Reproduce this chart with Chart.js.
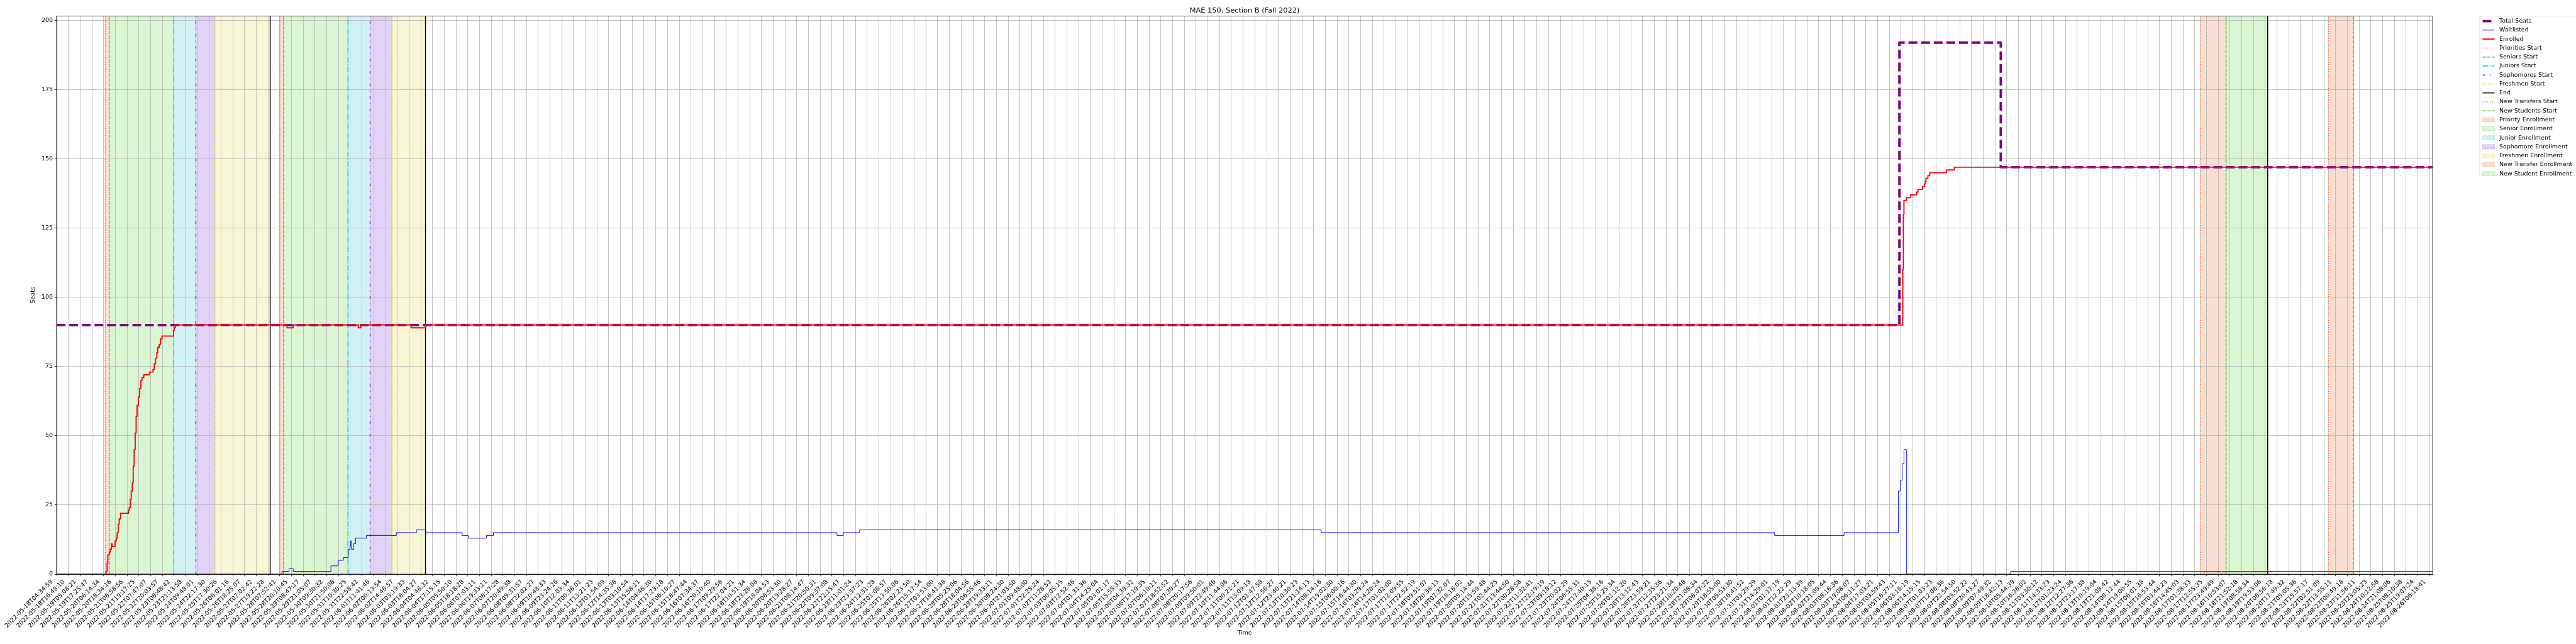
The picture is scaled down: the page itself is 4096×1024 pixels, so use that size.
<!DOCTYPE html>
<html>
<head>
<meta charset="utf-8">
<title>MAE 150, Section B (Fall 2022)</title>
<script src="https://cdn.jsdelivr.net/npm/chart.js@4.4.0/dist/chart.umd.min.js"></script>
<style>
  html, body { margin: 0; padding: 0; background: #fff; }
  #graph-container { width: 4096px; height: 1024px; position: relative; }
</style>
</head>
<body>
<div id="graph-container"><canvas id="graph"></canvas></div>
<script>
// ---- data (x values are sample positions on the tick index axis) ----
const chartTitle = 'MAE 150, Section B (Fall 2022)';
const xTitle = 'Time';
const yTitle = 'Seats';

const tickLabels = [
  '2022-05-18T04:34:59', '2022-05-18T16:48:10', '2022-05-19T05:08:21', '2022-05-19T17:25:47',
  '2022-05-20T06:14:34', '2022-05-20T18:34:16', '2022-05-21T06:58:56', '2022-05-21T19:17:25',
  '2022-05-22T07:47:07', '2022-05-22T20:03:57', '2022-05-23T08:48:42', '2022-05-23T21:13:58',
  '2022-05-24T09:48:01', '2022-05-24T22:17:30', '2022-05-25T17:30:26', '2022-05-26T06:01:16',
  '2022-05-26T18:25:07', '2022-05-27T07:02:42', '2022-05-27T19:22:28', '2022-05-28T07:52:41',
  '2022-05-28T20:10:45', '2022-05-29T08:47:17', '2022-05-29T21:05:07', '2022-05-30T09:30:32',
  '2022-05-30T21:50:06', '2022-05-31T10:30:25', '2022-05-31T22:58:42', '2022-06-01T11:41:46',
  '2022-06-02T00:13:54', '2022-06-02T14:46:57', '2022-06-03T03:19:33', '2022-06-03T16:04:27',
  '2022-06-04T04:46:32', '2022-06-04T17:15:15', '2022-06-05T05:50:10', '2022-06-05T18:18:28',
  '2022-06-06T07:03:11', '2022-06-06T19:33:11', '2022-06-07T08:17:28', '2022-06-07T20:49:38',
  '2022-06-08T09:31:57', '2022-06-08T22:02:27', '2022-06-09T10:48:33', '2022-06-09T23:24:26',
  '2022-06-10T12:03:34', '2022-06-11T00:36:02', '2022-06-11T13:21:23', '2022-06-12T01:54:09',
  '2022-06-12T14:35:38', '2022-06-13T03:10:54', '2022-06-13T15:58:11', '2022-06-14T04:46:30',
  '2022-06-14T17:23:18', '2022-06-15T06:10:27', '2022-06-15T18:47:44', '2022-06-16T07:34:37',
  '2022-06-16T20:10:40', '2022-06-17T09:29:56', '2022-06-17T22:04:21', '2022-06-18T10:51:34',
  '2022-06-18T23:26:08', '2022-06-19T18:04:53', '2022-06-20T06:53:30', '2022-06-20T19:28:27',
  '2022-06-21T08:14:47', '2022-06-21T20:50:31', '2022-06-22T09:37:08', '2022-06-22T22:15:47',
  '2022-06-23T11:01:24', '2022-06-23T23:37:23', '2022-06-24T12:31:28', '2022-06-25T01:06:57',
  '2022-06-25T13:50:06', '2022-06-26T02:23:50', '2022-06-26T15:17:54', '2022-06-27T03:53:00',
  '2022-06-27T16:41:38', '2022-06-28T05:25:06', '2022-06-28T18:04:56', '2022-06-29T06:55:46',
  '2022-06-29T19:33:11', '2022-06-30T08:24:30', '2022-06-30T21:03:50', '2022-07-01T09:48:00',
  '2022-07-01T22:25:24', '2022-07-02T11:28:52', '2022-07-03T00:05:15', '2022-07-03T12:52:46',
  '2022-07-04T01:31:36', '2022-07-04T14:25:04', '2022-07-05T03:01:17', '2022-07-05T15:55:33',
  '2022-07-06T04:39:32', '2022-07-06T17:19:35', '2022-07-07T06:10:11', '2022-07-07T18:52:52',
  '2022-07-08T07:39:27', '2022-07-08T20:17:56', '2022-07-09T09:50:01', '2022-07-09T22:49:46',
  '2022-07-10T11:44:06', '2022-07-11T00:21:21', '2022-07-11T13:09:18', '2022-07-12T01:47:58',
  '2022-07-12T12:56:27', '2022-07-12T23:40:21', '2022-07-13T10:30:23', '2022-07-13T21:14:13',
  '2022-07-14T08:14:16', '2022-07-14T19:02:30', '2022-07-15T06:00:16', '2022-07-15T16:44:30',
  '2022-07-16T03:29:24', '2022-07-16T14:20:24', '2022-07-17T01:02:00', '2022-07-17T12:09:55',
  '2022-07-17T22:52:19', '2022-07-18T09:51:07', '2022-07-18T20:36:13', '2022-07-19T07:32:07',
  '2022-07-19T18:16:02', '2022-07-20T05:14:44', '2022-07-20T15:59:48', '2022-07-21T02:44:25',
  '2022-07-21T13:44:50', '2022-07-22T00:28:58', '2022-07-22T11:32:41', '2022-07-22T22:19:19',
  '2022-07-23T09:18:12', '2022-07-23T20:02:29', '2022-07-24T06:55:31', '2022-07-24T17:40:15',
  '2022-07-25T04:38:16', '2022-07-25T15:25:34', '2022-07-26T02:12:20', '2022-07-26T13:12:43',
  '2022-07-26T23:59:21', '2022-07-27T12:35:36', '2022-07-27T23:21:34', '2022-07-28T10:20:48',
  '2022-07-28T21:08:34', '2022-07-29T08:07:22', '2022-07-29T18:55:00', '2022-07-30T05:53:30',
  '2022-07-30T16:41:52', '2022-07-31T03:29:29', '2022-07-31T14:29:01', '2022-08-01T01:17:19',
  '2022-08-01T12:22:29', '2022-08-01T23:13:39', '2022-08-02T10:18:05', '2022-08-02T21:09:44',
  '2022-08-03T08:16:36', '2022-08-03T19:08:07', '2022-08-04T06:11:27', '2022-08-04T17:03:21',
  '2022-08-05T03:59:43', '2022-08-05T16:27:11', '2022-08-06T03:16:19', '2022-08-06T14:15:15',
  '2022-08-07T01:03:23', '2022-08-07T12:06:36', '2022-08-07T22:54:50', '2022-08-08T09:52:22',
  '2022-08-08T20:43:27', '2022-08-09T07:49:32', '2022-08-09T18:42:13', '2022-08-10T05:44:39',
  '2022-08-10T16:36:02', '2022-08-11T03:30:12', '2022-08-11T14:33:23', '2022-08-12T01:23:24',
  '2022-08-12T12:27:36', '2022-08-12T23:17:38', '2022-08-13T10:19:04', '2022-08-13T21:08:42',
  '2022-08-14T08:12:44', '2022-08-14T19:00:55', '2022-08-15T06:01:38', '2022-08-15T16:53:44',
  '2022-08-16T03:44:23', '2022-08-16T14:45:03', '2022-08-17T01:38:33', '2022-08-17T12:55:35',
  '2022-08-17T23:49:49', '2022-08-18T10:53:07', '2022-08-18T21:52:18', '2022-08-19T08:58:34',
  '2022-08-19T19:53:06', '2022-08-20T06:56:18', '2022-08-20T17:49:32', '2022-08-21T05:05:36',
  '2022-08-21T15:57:17', '2022-08-22T02:51:09', '2022-08-22T13:55:11', '2022-08-23T00:49:18',
  '2022-08-23T11:56:11', '2022-08-23T23:05:23', '2022-08-24T10:12:58', '2022-08-24T21:08:06',
  '2022-08-25T08:10:38', '2022-08-25T19:07:24', '2022-08-26T06:18:41'
];
const seatTicks = [0, 25, 50, 75, 100, 125, 150, 175, 200];
const seatMax = 201.6;
const lastSample = 202.25;

// [position, value] - value holds from this position on
const totalSeats = [[0, 90], [156.86, 192], [165.49, 147], [202.25, 147]];
const waitlisted = [
  [0, 0], [19.18, 1], [19.78, 2], [20.14, 1], [23.35, 3], [23.97, 5], [24.41, 6],
  [24.83, 9], [24.98, 10], [25.02, 12], [25.1, 9], [25.3, 11], [25.45, 13], [26.37, 14],
  [28.92, 15], [30.63, 16], [31.42, 15], [34.52, 14], [35.04, 13], [36.59, 14], [37.18, 15],
  [66.43, 14], [66.97, 15], [68.35, 16], [107.65, 15], [146.24, 14], [152.16, 15],
  [156.77, 30], [156.95, 34], [157.1, 40], [157.25, 45], [157.48, 0], [166.33, 1], [202.25, 1]
];
const enrolled = [
  [0, 0], [4.2, 1], [4.3, 4], [4.36, 7], [4.49, 8], [4.57, 9], [4.66, 11], [4.72, 10],
  [4.97, 12], [5.08, 13], [5.16, 15], [5.24, 18], [5.33, 20], [5.45, 22], [6.12, 23],
  [6.18, 24], [6.27, 27], [6.35, 30], [6.44, 33], [6.52, 39], [6.6, 45], [6.69, 51],
  [6.77, 57], [6.85, 61], [6.96, 64], [7.06, 67], [7.17, 70], [7.27, 71], [7.42, 72],
  [7.9, 73], [8.21, 74], [8.32, 76], [8.42, 78], [8.53, 80], [8.61, 82], [8.74, 83],
  [8.84, 85], [8.97, 86], [9.95, 88], [10.01, 89], [10.1, 90],
  [19.62, 89], [20.14, 90], [25.68, 89], [25.89, 90], [30.18, 89], [31.4, 90],
  [157.15, 110], [157.2, 130], [157.25, 135], [157.45, 136], [157.8, 137], [158.3, 138],
  [158.45, 139], [158.84, 140], [159.0, 141], [159.07, 142], [159.12, 143], [159.29, 144],
  [159.45, 145], [160.87, 146], [161.54, 147], [202.25, 147]
];

const priorityStarts = [4.14, 19.0];
const seniorStarts = [4.48, 19.32];
const juniorStarts = [9.97, 24.8];
const sophomoreStarts = [11.85, 26.69];
const freshmenStarts = [13.48, 28.55];
const endTimes = [18.18, 31.4, 188.21];
const newTransferStarts = [182.49, 193.4];
const newStudentStarts = [184.67, 195.53];

// ---- styles ----
const pt = 100 / 72 * 0.682;
const fontFamily = '"DejaVu Sans", sans-serif';
const fontSize = 10 * pt;
const colors = {
  total: '#800080', waitlisted: '#0000ff', enrolled: '#ff0000',
  priority: '#ee6a2e', senior: '#44cc22', junior: '#17becf',
  sophomore: '#6a22d0', freshmen: '#dcdc2a', end: '#000000'
};
const shades = {
  priority: '#f9dfd3', senior: '#daf5d3', junior: '#d1f2f5',
  sophomore: '#e1d3f6', freshmen: '#f7f7d5'
};
const eventWidth = 1.5 * pt;
const dashUnits = {
  dotted: [1, 1.65], dashed: [3.7, 1.6], dashdot: [6.4, 1.6, 1, 1.6],
  loose: [3, 5, 1, 5], dense: [3, 1, 1, 1], solid: []
};
function dashFor(kind, width) {
  return dashUnits[kind].map(d => d * width);
}

const eventSeries = [
  {label: 'Priorities Start', xs: priorityStarts, color: colors.priority, dash: 'dotted'},
  {label: 'Seniors Start', xs: seniorStarts, color: colors.senior, dash: 'dashed'},
  {label: 'Juniors Start', xs: juniorStarts, color: colors.junior, dash: 'dashdot'},
  {label: 'Sophomores Start', xs: sophomoreStarts, color: colors.sophomore, dash: 'loose'},
  {label: 'Freshmen Start', xs: freshmenStarts, color: colors.freshmen, dash: 'dense'},
  {label: 'End', xs: endTimes, color: colors.end, dash: 'solid'},
  {label: 'New Transfers Start', xs: newTransferStarts, color: colors.priority, dash: 'dotted'},
  {label: 'New Students Start', xs: newStudentStarts, color: colors.senior, dash: 'dashed'}
];
const spanSeries = [
  {label: 'Priority Enrollment', starts: priorityStarts, fill: shades.priority, edge: colors.priority},
  {label: 'Senior Enrollment', starts: seniorStarts, fill: shades.senior, edge: colors.senior},
  {label: 'Junior Enrollment', starts: juniorStarts, fill: shades.junior, edge: colors.junior},
  {label: 'Sophomore Enrollment', starts: sophomoreStarts, fill: shades.sophomore, edge: colors.sophomore},
  {label: 'Freshmen Enrollment', starts: freshmenStarts, fill: shades.freshmen, edge: colors.freshmen},
  {label: 'New Transfer Enrollment', starts: newTransferStarts, fill: shades.priority, edge: colors.priority},
  {label: 'New Student Enrollment', starts: newStudentStarts, fill: shades.senior, edge: colors.senior}
];

// every window runs from its start to the next event line
const boundaries = eventSeries.flatMap(e => e.xs).sort((a, b) => a - b);
function nextBoundary(v) {
  return boundaries.find(b => b > v + 1e-6);
}

const seriesLines = [
  {label: 'Total Seats', data: totalSeats, color: colors.total, width: 4 * pt, dash: 'dashed'},
  {label: 'Waitlisted', data: waitlisted, color: colors.waitlisted, width: 1 * pt, dash: 'solid'},
  {label: 'Enrolled', data: enrolled, color: colors.enrolled, width: 2 * pt, dash: 'solid'}
];

function toPoints(pairs) {
  return pairs.map(p => ({x: p[0], y: p[1]}));
}
function verticalLines(xs) {
  const pts = [];
  xs.forEach(v => { pts.push({x: v, y: 0}, {x: v, y: seatMax}, {x: v, y: null}); });
  return pts;
}

let datasets = [];
seriesLines.forEach((s, i) => {
  datasets.push({
    label: s.label,
    data: toPoints(s.data),
    borderColor: s.color,
    borderWidth: s.width,
    borderDash: dashFor(s.dash, s.width),
    borderJoinStyle: 'round',
    stepped: true,
    pointRadius: 0,
    fill: false,
    clip: 0,
    order: 3 - i
  });
});
eventSeries.forEach(e => {
  datasets.push({
    label: e.label,
    data: verticalLines(e.xs),
    borderColor: e.color,
    borderWidth: eventWidth,
    borderDash: dashFor(e.dash, eventWidth),
    pointRadius: 0,
    fill: false,
    spanGaps: false,
    clip: 0,
    order: 10
  });
});

const spanPlugin = {
  id: 'enrollmentSpans',
  beforeDraw(chart) {
    const {ctx, chartArea, scales: {x}} = chart;
    ctx.save();
    ctx.fillStyle = '#ffffff';
    ctx.fillRect(0, 0, chart.width, chart.height);
    ctx.beginPath();
    ctx.rect(chartArea.left, chartArea.top, chartArea.right - chartArea.left, chartArea.bottom - chartArea.top);
    ctx.clip();
    spanSeries.forEach(s => {
      s.starts.forEach(start => {
        const end = nextBoundary(start);
        if (end === undefined) return;
        const a = x.getPixelForValue(start);
        const b = x.getPixelForValue(end);
        ctx.fillStyle = s.fill;
        ctx.fillRect(a, chartArea.top, b - a, chartArea.bottom - chartArea.top);
        ctx.globalAlpha = 0.22;
        ctx.strokeStyle = s.edge;
        ctx.lineWidth = pt;
        ctx.strokeRect(a, chartArea.top, b - a, chartArea.bottom - chartArea.top);
        ctx.globalAlpha = 1;
      });
    });
    ctx.restore();
  }
};

const framePlugin = {
  id: 'axesFrame',
  afterDatasetsDraw(chart) {
    const {ctx, chartArea} = chart;
    ctx.save();
    ctx.strokeStyle = '#000';
    ctx.lineWidth = 0.8 * pt;
    ctx.strokeRect(chartArea.left, chartArea.top, chartArea.right - chartArea.left, chartArea.bottom - chartArea.top);
    ctx.restore();
  }
};

const titlePlugin = {
  id: 'axesTitle',
  afterDraw(chart) {
    const {ctx, chartArea} = chart;
    ctx.save();
    ctx.font = (12 * pt) + 'px ' + fontFamily;
    ctx.fillStyle = '#000';
    ctx.textAlign = 'center';
    ctx.textBaseline = 'alphabetic';
    ctx.fillText(chartTitle, (chartArea.left + chartArea.right) / 2, chartArea.top - 6 * pt);
    ctx.restore();
  }
};

const legendPlugin = {
  id: 'sideLegend',
  afterDraw(chart) {
    const {ctx, chartArea} = chart;
    const left = chartArea.right + 75;
    const top = chartArea.top;
    const rowGap = 14.27;
    const rows = seriesLines.length + eventSeries.length + spanSeries.length;
    const boxH = 8.1 * 2 + rowGap * (rows - 1) - 5.9;
    ctx.save();
    ctx.beginPath();
    ctx.roundRect(left, top, 175, boxH, 2);
    ctx.fillStyle = 'rgba(255,255,255,0.8)';
    ctx.fill();
    ctx.strokeStyle = '#cccccc';
    ctx.lineWidth = 0.7;
    ctx.stroke();

    const hx0 = left + 4.5, hx1 = left + 23.5, tx = left + 31;
    let y = top + 8.1;
    ctx.font = fontSize + 'px ' + fontFamily;
    ctx.textBaseline = 'middle';
    ctx.textAlign = 'left';
    function lineHandle(color, width, dash) {
      ctx.beginPath();
      ctx.setLineDash(dash);
      ctx.strokeStyle = color;
      ctx.lineWidth = width;
      ctx.moveTo(hx0, y);
      ctx.lineTo(hx1, y);
      ctx.stroke();
      ctx.setLineDash([]);
    }
    seriesLines.forEach(s => {
      lineHandle(s.color, s.width, dashFor(s.dash, s.width));
      ctx.fillStyle = '#000';
      ctx.fillText(s.label, tx, y);
      y += rowGap;
    });
    eventSeries.forEach(e => {
      lineHandle(e.color, eventWidth, dashFor(e.dash, eventWidth));
      ctx.fillStyle = '#000';
      ctx.fillText(e.label, tx, y);
      y += rowGap;
    });
    spanSeries.forEach(s => {
      ctx.fillStyle = s.fill;
      ctx.fillRect(hx0, y - 3.4, hx1 - hx0, 6.8);
      ctx.globalAlpha = 0.25;
      ctx.strokeStyle = s.edge;
      ctx.lineWidth = pt;
      ctx.strokeRect(hx0, y - 3.4, hx1 - hx0, 6.8);
      ctx.globalAlpha = 1;
      ctx.fillStyle = '#000';
      ctx.fillText(s.label, tx, y);
      y += rowGap;
    });
    ctx.restore();
  }
};

const tickFont = {family: fontFamily, size: fontSize};

const ctx = document.getElementById('graph').getContext('2d');
const graph = new Chart(ctx, {
  type: 'line',
  data: {datasets: datasets},
  options: {
    responsive: true,
    maintainAspectRatio: false,
    animation: false,
    devicePixelRatio: 1,
    layout: {padding: {left: 0, right: 228, top: 25.5, bottom: 0}},
    plugins: {legend: {display: false}, tooltip: {enabled: false}, title: {display: false}},
    elements: {point: {radius: 0}, line: {tension: 0}},
    scales: {
      x: {
        type: 'linear',
        min: 0,
        max: lastSample,
        bounds: 'data',
        afterBuildTicks: axis => { axis.ticks = tickLabels.map((t, i) => ({value: i})); },
        afterFit: axis => { axis.height = 111; },
        grid: {color: '#b0b0b0', lineWidth: 0.8 * pt, tickColor: '#000', tickLength: 3.5 * pt, tickWidth: 0.8 * pt},
        border: {display: true, color: '#000', width: 0.8 * pt},
        ticks: {
          autoSkip: false, maxRotation: 45, minRotation: 45,
          padding: 3.5 * pt, labelOffset: -7.5, color: '#000', font: tickFont,
          callback: v => (Number.isInteger(v) && tickLabels[v]) ? tickLabels[v] : ''
        },
        title: {display: true, text: xTitle, color: '#000', font: tickFont, padding: {top: 0, bottom: 11.3}}
      },
      y: {
        type: 'linear',
        min: 0,
        max: seatMax,
        bounds: 'data',
        afterBuildTicks: axis => { axis.ticks = seatTicks.map(v => ({value: v})); },
        afterFit: axis => { axis.width = 90; },
        grid: {color: '#b0b0b0', lineWidth: 0.8 * pt, tickColor: '#000', tickLength: 3.5 * pt, tickWidth: 0.8 * pt},
        border: {display: true, color: '#000', width: 0.8 * pt},
        ticks: {padding: 2.6, color: '#000', font: tickFont},
        title: {display: true, text: yTitle, color: '#000', font: tickFont, padding: {top: 47, bottom: 0}}
      }
    }
  },
  plugins: [spanPlugin, framePlugin, titlePlugin, legendPlugin]
});
</script>
</body>
</html>
